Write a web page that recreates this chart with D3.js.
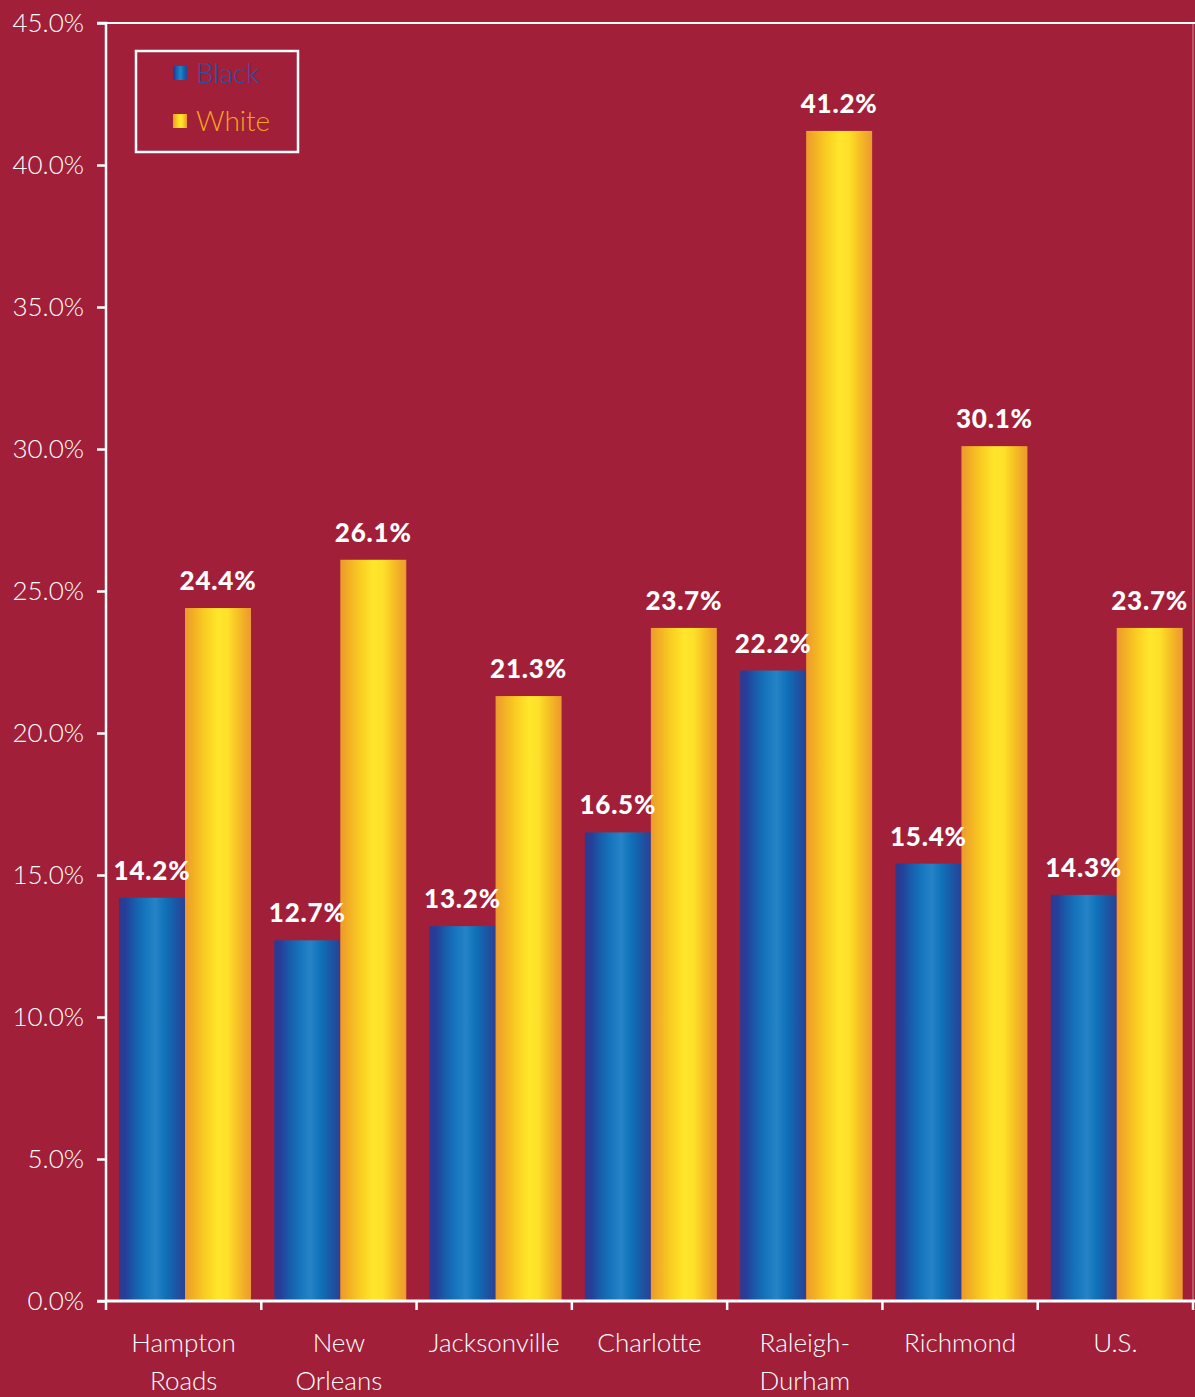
<!DOCTYPE html>
<html><head><meta charset="utf-8">
<script src="https://cdn.jsdelivr.net/npm/d3@7"></script>
<style>
html,body{margin:0;padding:0;background:#a11f39;}
svg{display:block;}
text{font-family:"Lato","Open Sans",sans-serif;}
</style></head>
<body>
<svg id="chart" width="1195" height="1397"></svg>
<script>
const categories = [["Hampton","Roads"],["New","Orleans"],["Jacksonville"],["Charlotte"],["Raleigh-","Durham"],["Richmond"],["U.S."]];
const seriesNames = ["Black","White"];
const blackValues = [14.2,12.7,13.2,16.5,22.2,15.4,14.3];
const whiteValues = [24.4,26.1,21.3,23.7,41.2,30.1,23.7];
const yTicks = [0,5,10,15,20,25,30,35,40,45];

const W=1195,H=1397;
const m={left:106,right:2,top:23,bottom:96};
const svg=d3.select("#chart");
svg.append("rect").attr("width",W).attr("height",H).attr("fill","#a11f39");

const defs=svg.append("defs");
function grad(id,stops){
  const g=defs.append("linearGradient").attr("id",id).attr("x1",0).attr("x2",1).attr("y1",0).attr("y2",0);
  stops.forEach(([o,c])=>g.append("stop").attr("offset",o).attr("stop-color",c));
}
grad("gBlue",[[0,"#2c3a8e"],[0.1,"#253f9a"],[0.22,"#1a5aa9"],[0.38,"#1474bc"],[0.55,"#2683c6"],[0.7,"#0f72b9"],[0.85,"#1a58a6"],[1,"#2a4196"]]);
grad("gYellow",[[0,"#ec9a2e"],[0.12,"#f2ae25"],[0.3,"#f9cd22"],[0.5,"#ffe62b"],[0.65,"#fde02a"],[0.8,"#f6c124"],[0.92,"#f0a82a"],[1,"#ec9a2e"]]);

const x=d3.scaleBand().domain(d3.range(categories.length)).range([m.left,W-m.right]).padding(0);
const xs=d3.scaleBand().domain(seriesNames).range([13,145]).padding(0);
const y=d3.scaleLinear().domain([0,45]).range([H-m.bottom,m.top]);

svg.append("line").attr("x1",m.left).attr("x2",W).attr("y1",y(45)).attr("y2",y(45)).attr("stroke","#fff").attr("stroke-width",2);
svg.append("line").attr("x1",W-m.right).attr("x2",W-m.right).attr("y1",y(45)).attr("y2",y(0)).attr("stroke","#e8c0c8").attr("stroke-width",1).attr("opacity",0.7);

const fills={Black:"url(#gBlue)",White:"url(#gYellow)"};
const data=[];
categories.forEach((c,i)=>{data.push({i,s:"Black",v:blackValues[i]});data.push({i,s:"White",v:whiteValues[i]});});
svg.append("g").selectAll("rect").data(data).join("rect")
  .attr("x",d=>x(d.i)+xs(d.s)).attr("width",xs.bandwidth())
  .attr("y",d=>y(d.v)).attr("height",d=>y(0)-y(d.v))
  .attr("fill",d=>fills[d.s]);

svg.append("g").selectAll("text").data(data).join("text")
  .attr("x",d=>x(d.i)+xs(d.s)+xs.bandwidth()/2)
  .attr("y",d=>y(d.v)-18)
  .attr("text-anchor","middle").attr("fill","#fff")
  .attr("font-size",26).attr("font-weight",900).attr("letter-spacing",0.8)
  .text(d=>d.v.toFixed(1)+"%");

const yAxis=d3.axisLeft(y).tickValues(yTicks).tickSize(9).tickPadding(13).tickFormat(d=>d.toFixed(1)+"%");
const ga=svg.append("g").attr("transform",`translate(${m.left},0)`).call(yAxis);
ga.select(".domain").attr("stroke","#fff").attr("stroke-width",2.5).attr("d",`M-9,${y(45)}H0V${y(0)}H-9`);
ga.selectAll(".tick line").attr("stroke","#fff").attr("stroke-width",2.5);
ga.selectAll(".tick text").attr("fill","#fff").attr("font-size",26).attr("font-weight",300).attr("font-family","Lato, sans-serif").attr("dy","0.34em");

const xAxisG=svg.append("g").attr("transform",`translate(0,${y(0)})`);
xAxisG.append("line").attr("x1",m.left).attr("x2",W).attr("y1",0).attr("y2",0).attr("stroke","#fff").attr("stroke-width",3);
const bounds=d3.range(categories.length+1).map(i=>i<categories.length?x(i):W-m.right);
xAxisG.selectAll("line.tk").data(bounds).join("line").attr("class","tk")
  .attr("x1",d=>d).attr("x2",d=>d).attr("y1",0).attr("y2",9).attr("stroke","#fff").attr("stroke-width",2.5);
const cl=xAxisG.selectAll("text.cat").data(categories).join("text").attr("class","cat")
  .attr("x",(d,i)=>x(i)+x.bandwidth()/2).attr("y",51)
  .attr("text-anchor","middle").attr("fill","#fff").attr("font-size",26).attr("font-weight",300);
cl.each(function(d,i){
  const t=d3.select(this);
  d.forEach((line,j)=>t.append("tspan").attr("x",x(i)+x.bandwidth()/2).attr("dy",j===0?0:38).text(line));
});

const lg=svg.append("g");
lg.append("rect").attr("x",136).attr("y",51).attr("width",162).attr("height",101).attr("fill","none").attr("stroke","#fff").attr("stroke-width",2.5);
const legendColors={Black:"#2d50a6",White:"#f2a61e"};
seriesNames.forEach((s,k)=>{
  const yy=73+k*48;
  lg.append("rect").attr("x",173).attr("y",yy-7).attr("width",14).attr("height",14).attr("fill",fills[s]);
  lg.append("text").attr("x",196).attr("y",yy+10).attr("fill",legendColors[s]).attr("font-size",28).attr("font-weight",300).text(s);
});
</script>
</body></html>
